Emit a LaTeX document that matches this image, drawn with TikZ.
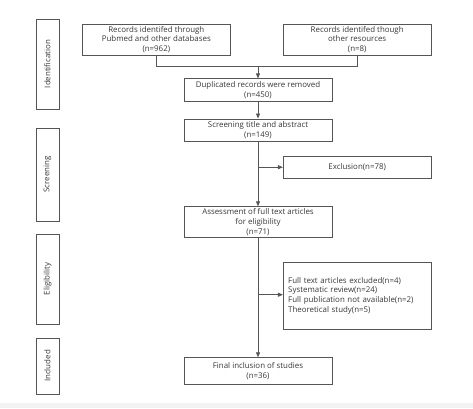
\documentclass[tikz,border=0pt]{standalone}
\usepackage{fontspec}
\setmainfont{Open Sans}
\usetikzlibrary{arrows.meta}
\definecolor{linegray}{HTML}{555555}
\definecolor{textgray}{HTML}{383838}
\definecolor{bandgray}{HTML}{F2F2F2}
\begin{document}
\begin{tikzpicture}[x=1pt,y=-1pt,
  every node/.style={font=\fontsize{7.9}{9.8}\selectfont,text=textgray},
  box/.style={draw=linegray,line width=0.8pt,rectangle,inner sep=1pt,align=center,minimum width=148pt},
  sidebox/.style={draw=linegray,line width=0.8pt,rectangle,minimum width=23pt,inner sep=0pt},
  conn/.style={draw=linegray,line width=0.8pt},
  arr/.style={conn,-{Triangle[length=5pt,width=4pt]}}]
\useasboundingbox (0,0) rectangle (473,408);
\fill[bandgray] (0,403) rectangle (473,408);
% side boxes
\node[sidebox,minimum height=90pt] (sid) at (47.5,64) {};
\node[rotate=90] at (sid.center) {Identification};
\node[sidebox,minimum height=93pt] (ssc) at (47.5,174.5) {};
\node[rotate=90] at (ssc.center) {Screening};
\node[sidebox,minimum height=90pt] (sel) at (47.5,279) {};
\node[rotate=90] at (sel.center) {Eligibility};
\node[sidebox,minimum height=56pt] (sin) at (47.5,366) {};
\node[rotate=90] at (sin.center) {Included};
% main boxes
\node[box,minimum width=147.3pt,minimum height=31pt] (b1) at (156.3,39.5) {Records identifed through\\Pubmed and other databases\\(n=962)};
\node[box,minimum width=147.7pt,minimum height=31pt] (b2) at (357.2,39.5) {Records identifed though\\other resources\\(n=8)};
\node[box,minimum height=22.3pt] (b3) at (258,90) {Duplicated records were removed\\(n=450)};
\node[box,minimum height=22.7pt] (b4) at (258,130.3) {Screening title and abstract\\(n=149)};
\node[box,minimum width=147.7pt,minimum height=22.3pt] (ex1) at (357.2,167.2) {Exclusion(n=78)};
\node[box,minimum height=30.6pt] (b5) at (258,222) {Assessment of full text articles\\for eligibility\\(n=71)};
\node[box,minimum width=147.7pt,minimum height=66.7pt,align=left,text width=138pt] (ex2) at (357.2,295.7) {Full text articles excluded(n=4)\\Systematic review(n=24)\\Full publication not available(n=2)\\Theoretical study(n=5)};
\node[box,minimum height=26.6pt] (b6) at (258,371) {Final inclusion of studies\\(n=36)};
% connectors
\coordinate (m1) at (258,66.7);
\coordinate (j1) at (258,167.2);
\coordinate (j2) at (258,294.7);
\draw[conn] (b1.south) -- (b1.south |- m1) -- (b2.south |- m1) -- (b2.south);
\draw[arr] (m1) -- (b3.north);
\draw[arr] (b3.south) -- (b4.north);
\draw[arr] (b4.south) -- (b5.north);
\draw[arr] (j1) -- (ex1.west);
\draw[arr] (b5.south) -- (b6.north);
\draw[arr] (j2) -- (ex2.west |- j2);
\end{tikzpicture}
\end{document}
